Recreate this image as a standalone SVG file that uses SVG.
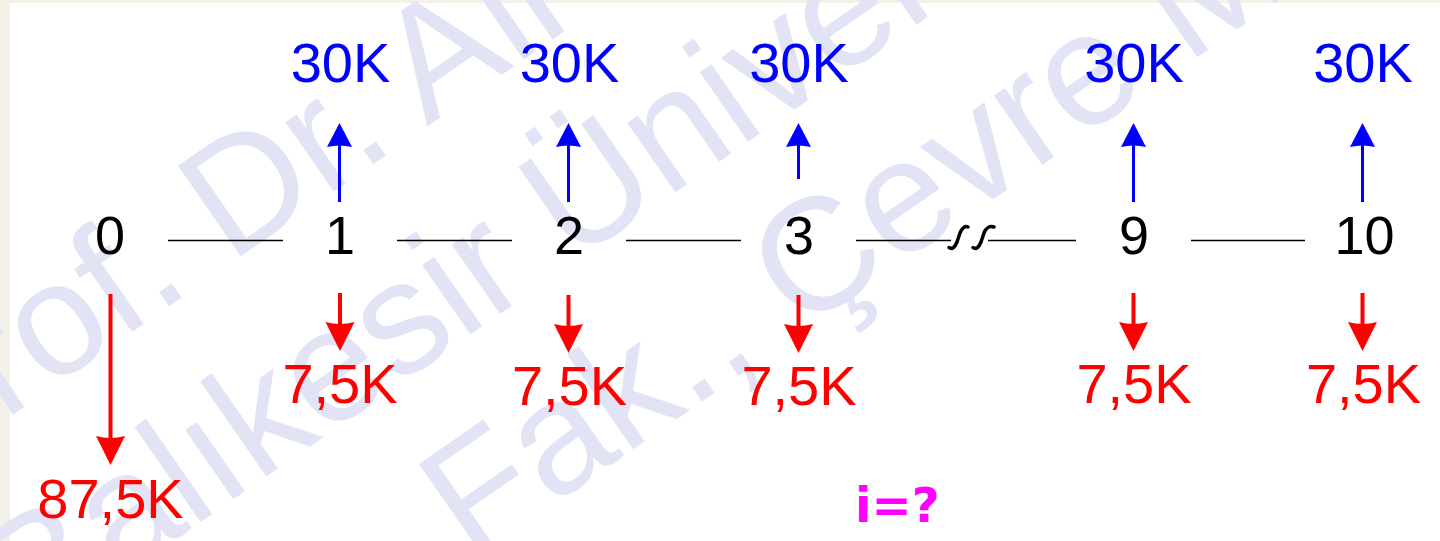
<svg xmlns="http://www.w3.org/2000/svg" width="1440" height="541" viewBox="0 0 1440 541">
<style>
.wm{fill:#e2e4f6;font-family:"Liberation Sans",Arial,sans-serif;font-size:160px}
.num{fill:#000;font-family:"Liberation Sans",Arial,sans-serif;font-size:54px;text-anchor:middle}
.in{fill:#0000ff;font-family:"Liberation Sans",Arial,sans-serif;font-size:56px;text-anchor:middle}
.out{fill:#ff0000;font-family:"Liberation Sans",Arial,sans-serif;font-size:56px;text-anchor:middle}
.q{fill:#ff00ff;font-family:"DejaVu Sans",Verdana,sans-serif;font-weight:bold;font-size:48px}
.bs{stroke:#0000ff;stroke-width:3;fill:none}
.rs{stroke:#ff0000;stroke-width:4;fill:none}
.bh{fill:#0000ff}
.rh{fill:#ff0000}
.tl{stroke:#000;stroke-width:1.3;fill:none}
.brk{stroke:#000;stroke-width:3.5;fill:none;stroke-linecap:round}
</style>
<defs>
<path id="hu" d="M0,0 L-12.5,24 Q0,21 12.5,24 Z"/>
<path id="hd" d="M0,0 L-14.5,-29 Q0,-25 14.5,-29 Z"/>
</defs>
<rect x="0" y="0" width="1440" height="541" fill="#f4f2e8"/>
<rect x="10" y="3" width="1430" height="538" fill="#ffffff"/>
<g id="watermark">
<text class="wm" transform="translate(-84,482) rotate(-34.8)">Prof. Dr. Ali</text>
<text class="wm" transform="translate(31,640) rotate(-34.8)">Balıkesir Üniver</text>
<text class="wm" transform="translate(471,562) rotate(-34.8)">Fak., Çevre M</text>
</g>
<g id="connectors">
<line class="tl" x1="168" y1="240.5" x2="283" y2="240.5"/>
<line class="tl" x1="397" y1="240.5" x2="512" y2="240.5"/>
<line class="tl" x1="626" y1="240.5" x2="741" y2="240.5"/>
<line class="tl" x1="856" y1="240.5" x2="951" y2="240.5"/>
<line class="tl" x1="988" y1="240.5" x2="1076" y2="240.5"/>
<line class="tl" x1="1191" y1="240.5" x2="1305" y2="240.5"/>
<path class="brk" d="M949,247.5 C952,250 955,247 957,242 L960,233 C962,228 965,225.5 968,227"/>
<path class="brk" d="M973,247.5 C976,250 979,247 981,242 L984,233 C986,228 990,225.5 994,227"/>
</g>
<g id="node-0">
<text class="num" x="110" y="254">0</text>
<line class="rs" x1="110.5" y1="294" x2="110.5" y2="438"/>
<use href="#hd" class="rh" x="110.5" y="465"/>
<text class="out" x="110.5" y="518">87,5K</text>
</g>
<g id="node-1">
<text class="num" x="340" y="254">1</text>
<line class="bs" x1="339.5" y1="202" x2="339.5" y2="145"/>
<use href="#hu" class="bh" x="339.5" y="123"/>
<text class="in" x="340.5" y="82">30K</text>
<line class="rs" x1="340" y1="293" x2="340" y2="324"/>
<use href="#hd" class="rh" x="340" y="351"/>
<text class="out" x="340" y="403">7,5K</text>
</g>
<g id="node-2">
<text class="num" x="569" y="254">2</text>
<line class="bs" x1="568.5" y1="202" x2="568.5" y2="145"/>
<use href="#hu" class="bh" x="568.5" y="123"/>
<text class="in" x="569.5" y="82">30K</text>
<line class="rs" x1="568.5" y1="295" x2="568.5" y2="326"/>
<use href="#hd" class="rh" x="568.5" y="353"/>
<text class="out" x="569.5" y="405">7,5K</text>
</g>
<g id="node-3">
<text class="num" x="799" y="254">3</text>
<line class="bs" x1="798.5" y1="179" x2="798.5" y2="145"/>
<use href="#hu" class="bh" x="798.5" y="123"/>
<text class="in" x="799" y="82">30K</text>
<line class="rs" x1="798.5" y1="295" x2="798.5" y2="326"/>
<use href="#hd" class="rh" x="798.5" y="353"/>
<text class="out" x="799" y="405">7,5K</text>
</g>
<g id="node-9">
<text class="num" x="1134" y="254">9</text>
<line class="bs" x1="1133.5" y1="202" x2="1133.5" y2="145"/>
<use href="#hu" class="bh" x="1133.5" y="123"/>
<text class="in" x="1134" y="82">30K</text>
<line class="rs" x1="1133.5" y1="293" x2="1133.5" y2="324"/>
<use href="#hd" class="rh" x="1133.5" y="351"/>
<text class="out" x="1134" y="403">7,5K</text>
</g>
<g id="node-10">
<text class="num" x="1364.5" y="254">10</text>
<line class="bs" x1="1362.5" y1="202" x2="1362.5" y2="145"/>
<use href="#hu" class="bh" x="1362.5" y="123"/>
<text class="in" x="1363" y="82">30K</text>
<line class="rs" x1="1362.5" y1="293" x2="1362.5" y2="324"/>
<use href="#hd" class="rh" x="1362.5" y="351"/>
<text class="out" x="1363.5" y="403">7,5K</text>
</g>
<g id="question">
<text class="q" x="855" y="522">i=?</text>
</g>
</svg>
